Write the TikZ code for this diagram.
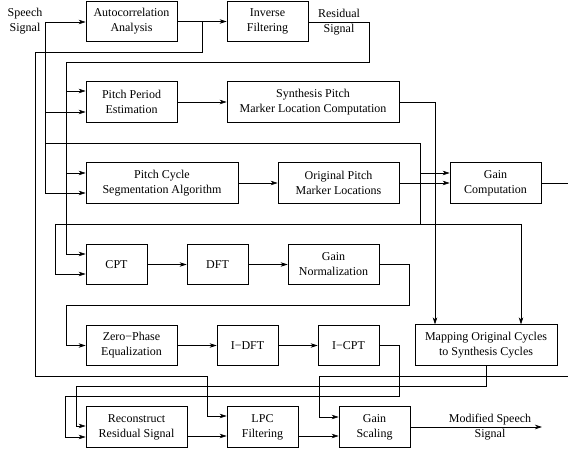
\documentclass[tikz,border=0pt]{standalone}
\usepackage{fontspec}
\setmainfont{Liberation Serif}
\usetikzlibrary{arrows.meta,calc}
\begin{document}
\begin{tikzpicture}[x=1pt,y=-1pt,
  font=\fontsize{12}{15}\selectfont,
  line width=0.7pt,
  box/.style={draw, inner sep=0pt, align=center, minimum height=40.5pt},
  lbl/.style={inner sep=0pt, align=center},
  arr/.style={-{Stealth[length=7pt,width=4.5pt,inset=2pt]}}]
\useasboundingbox (0,0) rectangle (568,454);
% boxes
\node[box, minimum width=91pt] (auto) at (131.5,21.5) {Autocorrelation\\Analysis};
\node[box, minimum width=81pt] (inv) at (267.5,21.5) {Inverse\\Filtering};
\node[box, minimum width=91pt] (ppe) at (131.5,102) {Pitch Period\\Estimation};
\node[box, minimum width=172pt] (spm) at (313,102) {Synthesis Pitch\\Marker Location Computation};
\node[box, minimum width=152pt] (pcs) at (162,183) {Pitch Cycle\\Segmentation Algorithm};
\node[box, minimum width=121pt] (opm) at (338.5,183) {Original Pitch\\Marker Locations};
\node[box, minimum width=91pt] (gc) at (495.5,183) {Gain\\Computation};
\node[box, minimum width=61pt] (cpt) at (116.5,264.5) {CPT};
\node[box, minimum width=61pt] (dft) at (217.5,264.5) {DFT};
\node[box, minimum width=91pt] (gn) at (333.5,264.5) {Gain\\Normalization};
\node[box, minimum width=91pt] (zpe) at (131.5,345.5) {Zero−Phase\\Equalization};
\node[box, minimum width=61pt] (idft) at (247.5,345.5) {I−DFT};
\node[box, minimum width=61pt] (icpt) at (348.5,345.5) {I−CPT};
\node[box, minimum width=142pt] (map) at (486,345) {Mapping Original Cycles\\to Synthesis Cycles};
\node[box, minimum width=101pt] (rrs) at (136.5,427) {Reconstruct\\Residual Signal};
\node[box, minimum width=71pt] (lpc) at (262.5,427) {LPC\\Filtering};
\node[box, minimum width=71pt] (gs) at (374.5,427) {Gain\\Scaling};
% labels
\node[lbl] (sig) at (25,21) {Speech\\Signal};
\node[lbl] (res) at (339,22) {Residual\\Signal};
\node[lbl] (mod) at (490,427.5) {Modified Speech\\Signal};
% coordinates
\coordinate (s0) at (45,22);
\coordinate (s1) at (45,112);
\coordinate (s2) at (45,143);
\coordinate (s3) at (45,193);
\coordinate (g0) at (420,143);
\coordinate (g1) at (420,173);
\coordinate (g2) at (420,224);
\coordinate (o0) at (55,224);
\coordinate (o1) at (55,274);
\coordinate (o2) at (521,224);
\coordinate (a0) at (202,22);
\coordinate (a1) at (202,52);
\coordinate (a2) at (35,52);
\coordinate (a3) at (35,376);
\coordinate (a4) at (207,376);
\coordinate (a5) at (207,416);
\coordinate (r0) at (369,22);
\coordinate (r1) at (369,62);
\coordinate (r2) at (66,62);
\coordinate (r3) at (66,91);
\coordinate (r4) at (66,173);
\coordinate (r5) at (66,254);
\coordinate (m1) at (435,102);
\coordinate (n1) at (409,305);
\coordinate (n2) at (66,305);
\coordinate (c1) at (399,396);
\coordinate (c2) at (65,396);
\coordinate (c3) at (65,437);
\coordinate (p2) at (76,386);
\coordinate (p3) at (76,426);
\coordinate (e0) at (568,183);
\coordinate (e1) at (568,376);
\coordinate (e2) at (319,376);
\coordinate (e3) at (319,417);
\coordinate (out) at (542,427);
% speech signal paths
\draw[arr] (s0) -- (s0 -| auto.west);
\draw (s0) -- (s3);
\draw[arr] (s3) -- (s3 -| pcs.west);
\draw[arr] (s1) -- (s1 -| ppe.west);
\draw (s2) -- (g0) -- (g2);
\draw[arr] (g1) -- (g1 -| gc.west);
\draw (o0) -- (o2);
\draw[arr] (o0) -- (o1) -- (o1 -| cpt.west);
\draw[arr] (o2) -- (o2 |- map.north);
% autocorrelation
\draw[arr] (auto) -- (inv);
\draw (a0) -- (a1) -- (a2) -- (a3) -- (a4) -- (a5);
\draw[arr] (a5) -- (a5 -| lpc.west);
% residual
\draw (inv.east |- r0) -- (r0) -- (r1) -- (r2) -- (r5);
\draw[arr] (r5) -- (r5 -| cpt.west);
\draw[arr] (r3) -- (r3 -| ppe.west);
\draw[arr] (r4) -- (r4 -| pcs.west);
% pitch
\draw[arr] (ppe) -- (spm);
\draw[arr] (spm.east) -- (m1) -- (m1 |- map.north);
\draw[arr] (pcs) -- (opm);
\draw[arr] (opm) -- (gc);
\draw (gc.east) -- (e0);
\draw[arr] (e1) -- (e2) -- (e3) -- (e3 -| gs.west);
% spectral chain
\draw[arr] (cpt) -- (dft);
\draw[arr] (dft) -- (gn);
\draw[arr] (gn.east) -| (n1) -- (n2) |- (zpe.west);
\draw[arr] (zpe) -- (idft);
\draw[arr] (idft) -- (icpt);
\draw[arr] (icpt.east) -| (c1) -- (c2) -- (c3) -- (c3 -| rrs.west);
\draw[arr] (map.south) |- (p2) -- (p3) -- (p3 -| rrs.west);
% bottom row
\draw[arr] ([yshift=-9pt]rrs.east) -- ([yshift=-9pt]lpc.west);
\draw[arr] ([yshift=-9pt]lpc.east) -- ([yshift=-9pt]gs.west);
\draw[arr] (gs.east) -- (out);
\end{tikzpicture}
\end{document}
